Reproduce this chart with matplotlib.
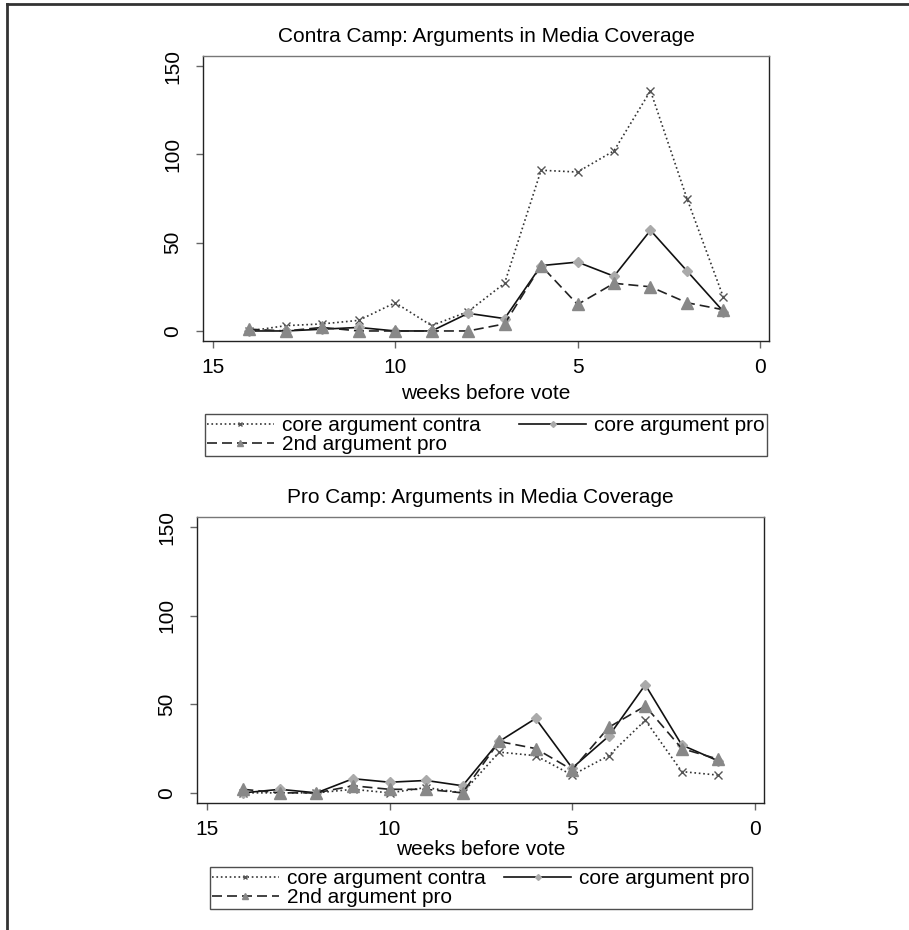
import matplotlib
matplotlib.use("Agg")
import matplotlib.pyplot as plt
from matplotlib.lines import Line2D

plt.rcParams['font.family'] = ['Liberation Sans', 'DejaVu Sans']

weeks = [14, 13, 12, 11, 10, 9, 8, 7, 6, 5, 4, 3, 2, 1]

# contra camp counts per week
contra_core_contra = [0, 3, 4, 6, 16, 3, 11, 27, 91, 90, 102, 136, 75, 19]
contra_core_pro = [0, 0, 1, 2, 0, 0, 10, 7, 37, 39, 31, 57, 34, 11]
contra_2nd_pro = [1, 0, 2, 0, 0, 0, 0, 4, 37, 15, 27, 25, 16, 12]

# pro camp counts per week
pro_core_contra = [0, 0, 0, 2, 0, 3, 0, 23, 21, 10, 21, 41, 12, 10]
pro_core_pro = [0, 2, 0, 8, 6, 7, 4, 29, 42, 14, 32, 61, 27, 18]
pro_2nd_pro = [2, 0, 0, 4, 2, 2, 0, 29, 25, 13, 37, 49, 25, 19]

labels = ['core argument contra', 'core argument pro', '2nd argument pro']
xticks = [15, 10, 5, 0]
yticks = [0, 50, 100, 150]

fig = plt.figure(figsize=(9.09, 9.30), dpi=100)


def draw_panel(rect, title, s1, s2, s3, labelpad):
    ax = fig.add_axes(rect)
    h1, = ax.plot(weeks, s1, linestyle=':', color='#333333', lw=1.2,
                  marker='x', ms=6, mew=1.0, mec='#555555')
    h2, = ax.plot(weeks, s2, linestyle='-', color='#111111', lw=1.2,
                  marker='D', ms=5, mfc='#aaaaaa', mec='#aaaaaa')
    h3, = ax.plot(weeks, s3, linestyle=(0, (6, 3)), color='#222222', lw=1.2,
                  marker='^', ms=8, mfc='#888888', mec='#888888')
    ax.set_xlim(15.27, -0.25)
    ax.set_ylim(-5.7, 155.7)
    ax.set_xticks(xticks)
    ax.set_yticks(yticks)
    ax.tick_params(direction='out', length=5, width=1, color='#666666',
                   labelsize=15)
    ax.tick_params(axis='x', pad=7)
    ax.tick_params(axis='y', pad=10)
    for lab in ax.get_yticklabels():
        lab.set_rotation(90)
        lab.set_va('center')
    for sp in ax.spines.values():
        sp.set_linewidth(1.0)
        sp.set_color('#222222')
    ax.spines['top'].set_color('#777777')
    ax.set_title(title, fontsize=15, pad=10)
    ax.set_xlabel('weeks before vote', fontsize=15, labelpad=labelpad)
    return ax, [h1, h3, h2]


ax1, hs1 = draw_panel([0.2233, 0.6333, 0.6227, 0.3065],
                      'Contra Camp: Arguments in Media Coverage',
                      contra_core_contra, contra_core_pro, contra_2nd_pro, 5)
ax2, hs2 = draw_panel([0.2167, 0.1366, 0.6238, 0.3075],
                      'Pro Camp: Arguments in Media Coverage',
                      pro_core_contra, pro_core_pro, pro_2nd_pro, 1)

order = [labels[0], labels[2], labels[1]]
for hs, box in [(hs1, (205 / 909, 1 - 456 / 930, 562 / 909, 50 / 930)),
                (hs2, (210 / 909, 1 - 909 / 930, 542 / 909, 48 / 930))]:
    leg = fig.legend(hs, order, ncol=2, loc='lower left', bbox_to_anchor=box,
                     mode='expand', fontsize=15, frameon=True, fancybox=False,
                     edgecolor='#222222', handlelength=3.2, handletextpad=0.4,
                     borderpad=0.1, labelspacing=0.0, columnspacing=1.0,
                     borderaxespad=0.0, markerscale=0.6)
    leg.get_frame().set_linewidth(1.0)

# outer frame lines
fig.add_artist(Line2D([7 / 909, 7 / 909], [0, 1 - 4 / 930], color='#333333', lw=2))
fig.add_artist(Line2D([7 / 909, 1], [1 - 4 / 930, 1 - 4 / 930], color='#333333', lw=2))

fig.savefig('out.png', dpi=100)
